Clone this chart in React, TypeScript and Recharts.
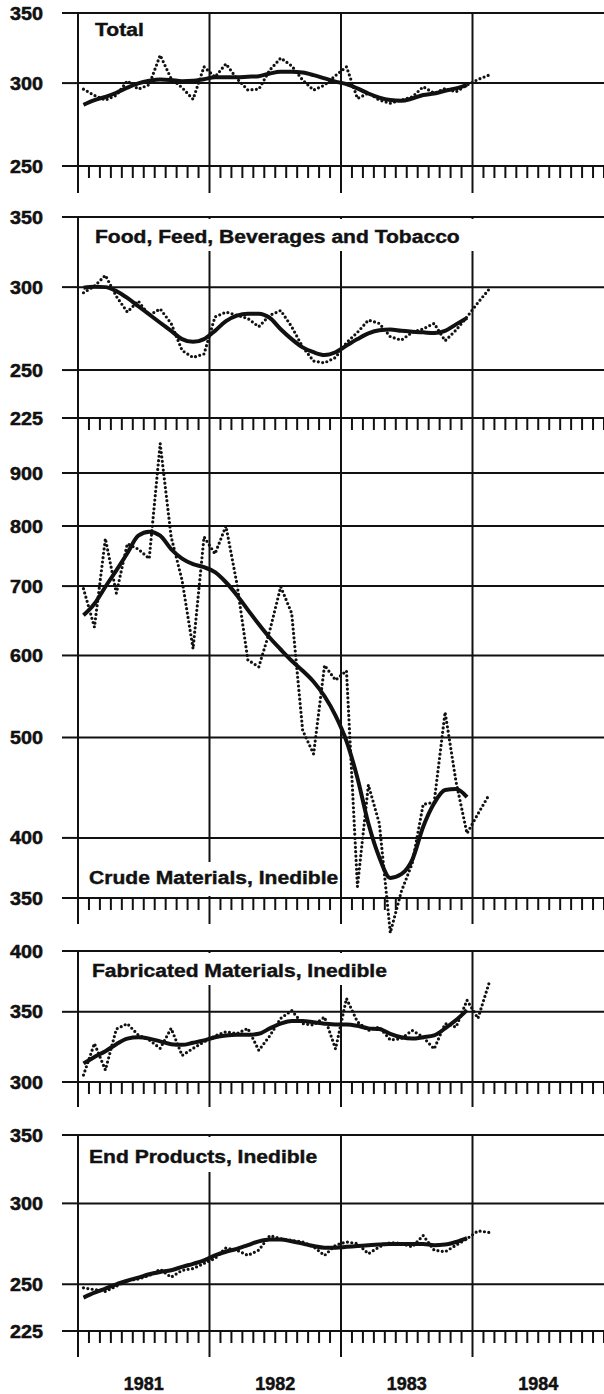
import { LineChart, Line, XAxis, YAxis, CartesianGrid, ReferenceLine } from "recharts";

// monthly index values, Jan 1981 onward (dotted = monthly, solid = trend)
const years = ["1981", "1982", "1983", "1984"];
const titles = [
  "Total",
  "Food, Feed, Beverages and Tobacco",
  "Crude Materials, Inedible",
  "Fabricated Materials, Inedible",
  "End Products, Inedible",
];

const totalRaw = [296, 292, 289, 292, 301.5, 296, 299, 319, 303, 297, 289.5, 311, 304, 313, 303, 295.5, 296, 308.7, 317, 311.6, 302, 295.4, 298.7, 305, 311, 290, 293.5, 289, 287, 289, 291, 297.6, 293.4, 296.5, 294.3, 298.7, 302.4, 305.3];
const totalTrend = [286, 289, 291, 293.7, 297, 299.8, 301.5, 302.4, 302, 301.3, 301.5, 302.6, 303.8, 303.8, 303.8, 304.2, 304.6, 306.4, 307.5, 307.5, 307, 305.3, 303.1, 301, 299.3, 296.5, 293.2, 290.6, 289, 288.5, 290, 292.2, 293.2, 295, 296.5, 298.7];

const foodRaw = [296.3, 300.6, 307.9, 294, 284, 291, 282, 286, 277, 261, 257, 259, 281, 284, 282, 280, 275, 282, 285, 275, 263, 255, 254, 257, 265.5, 271.6, 279, 277, 269, 267, 271.6, 273.7, 277, 266.6, 273, 281, 290, 298.5];
const foodTrend = [299.6, 300.2, 300, 297.4, 293, 287.7, 282.5, 277.4, 272.5, 267.6, 266, 267.6, 272.5, 278.4, 281.8, 283, 283, 280.4, 273.5, 267.6, 262.8, 260, 258.4, 260, 263.8, 267.6, 271, 272.9, 273.3, 272.5, 272, 271.6, 271.2, 272.5, 276.4, 280.4];

const crudeRaw = [696, 639, 778, 689, 769, 760, 744, 961, 781, 709, 609, 781, 752, 800, 704, 594, 585, 634, 699, 659, 508, 482, 587, 568, 580, 359, 450, 413, 324, 355, 378, 431, 433, 529, 453, 404, 422, 440];
const crudeTrend = [656, 673, 699, 725, 753, 783, 790, 783, 760, 744, 735, 730, 722, 706, 686, 664, 643, 624, 608, 593, 580, 566, 548, 525, 496, 457, 413, 383, 366, 369, 381, 410, 432, 445, 446, 438];

const fabRaw = [304.6, 326.5, 308, 337, 341, 332.6, 329, 323, 337.5, 318, 323, 327.6, 332, 335, 333.6, 337.5, 321.6, 332, 345, 351, 341, 340, 346, 322.6, 360.4, 342.4, 336, 338.5, 329, 330, 336, 331, 322.6, 341, 338.5, 359, 345, 372.5];
const fabTrend = [312.5, 317, 321, 326, 330, 331, 330, 328, 326, 325.5, 327, 328.7, 331, 332.3, 332.8, 332.8, 333.5, 337.5, 341, 343, 343, 342, 341, 340.4, 340.4, 339.4, 337.5, 337, 333.5, 331, 330, 331, 332.3, 337.5, 343.7, 351.3];

const endRaw = [248, 247, 246, 248.9, 252, 253, 255, 258.6, 254, 258, 259, 262, 265, 271.3, 270, 266.8, 270, 279, 277, 276, 275, 272, 266.8, 273, 275, 274, 267.8, 272, 274.7, 274, 272, 279, 270, 269, 273, 277, 282, 281];
const endTrend = [242.6, 245.3, 247.6, 250, 252, 253.8, 255.7, 257, 258, 260, 261.8, 263.8, 266.8, 269, 270.8, 273, 275.4, 276.6, 276.6, 275.4, 274, 272.5, 271.5, 271.5, 272, 272.5, 273, 273.4, 273.8, 273.8, 273.8, 273.8, 273, 273.4, 275, 277.4];

const ticks1 = [250, 300, 350];
const ticks2 = [225, 250, 300, 350];
const ticks3 = [350, 400, 500, 600, 700, 800, 900];
const ticks4 = [300, 350, 400];
const ticks5 = [225, 250, 300, 350];

const MONTHS = 48;
const FONT = "'Liberation Sans', Arial, Helvetica, sans-serif";
const INK = "#111";

const monthTicks = Array.from({ length: MONTHS + 1 }, (_, i) => i);
const rows = (raw: number[], trend: number[]) => raw.map((v, i) => ({ t: i + 0.5, raw: v, trend: trend[i] }));

const panels = [
  { top: 0, marginTop: 13, plot: 153, axisHeight: 30, longTick: 27, domain: [250, 350], ticks: ticks1, data: rows(totalRaw, totalTrend) },
  { top: 200, marginTop: 17, plot: 201, axisHeight: 58, longTick: 55, domain: [225, 350], ticks: ticks2, data: rows(foodRaw, foodTrend) },
  { top: 420, marginTop: 53, plot: 425, axisHeight: 45, longTick: 26, domain: [350, 900], ticks: ticks3, data: rows(crudeRaw, crudeTrend) },
  { top: 940, marginTop: 11, plot: 131, axisHeight: 30, longTick: 25, domain: [300, 400], ticks: ticks4, data: rows(fabRaw, fabTrend) },
  { top: 1120, marginTop: 15, plot: 196, axisHeight: 62, longTick: 26, domain: [225, 350], ticks: ticks5, data: rows(endRaw, endTrend), showYears: true },
];

// title placement + white boxes that hide the grid behind the titles
const titlePos = [
  { left: 95, top: 21 },
  { left: 95, top: 228 },
  { left: 89, top: 869 },
  { left: 92, top: 962 },
  { left: 89, top: 1148 },
];
const masks = [
  { left: 80, top: 219, width: 400, height: 32 },
  { left: 82, top: 862, width: 256, height: 34 },
  { left: 80, top: 953, width: 322, height: 32 },
  { left: 80, top: 1137, width: 250, height: 35 },
];

const YTick = ({ x, y, payload }: any) => (
  <text x={x} y={y} dy={6.5} textAnchor="end" fontFamily={FONT} fontWeight="bold" fontSize={18} fill={INK} stroke={INK} strokeWidth={0.5} textLength={33} lengthAdjust="spacingAndGlyphs">
    {payload.value}
  </text>
);

const MonthTick = ({ x, y, payload, longTick, showYears }: any) => {
  const v = payload.value;
  const isYear = v % 12 === 0 && v < MONTHS;
  return (
    <g>
      <line x1={x} x2={x} y1={y} y2={y + (isYear ? longTick : 12)} stroke={INK} strokeWidth={2} />
      {showYears && v % 12 === 6 && (
        <text x={x} y={y + 59} textAnchor="middle" fontFamily={FONT} fontWeight="bold" fontSize={19} fill={INK} stroke={INK} strokeWidth={0.5} textLength={40} lengthAdjust="spacingAndGlyphs">
          {years[Math.floor(v / 12)]}
        </text>
      )}
    </g>
  );
};

const Panel = ({ p }: any) => (
  <div style={{ position: "absolute", left: 0, top: p.top }}>
    <LineChart width={604} height={p.marginTop + p.plot + p.axisHeight} data={p.data} margin={{ top: p.marginTop, right: 0, bottom: 0, left: 0 }}>
      <CartesianGrid vertical={false} stroke={INK} strokeWidth={2} />
      <XAxis
        type="number"
        dataKey="t"
        domain={[0, MONTHS]}
        ticks={monthTicks}
        interval={0}
        allowDataOverflow
        tickSize={0}
        tickMargin={0}
        tickLine={false}
        axisLine={{ stroke: INK, strokeWidth: 2 }}
        height={p.axisHeight}
        tick={<MonthTick longTick={p.longTick} showYears={p.showYears} />}
      />
      <YAxis
        type="number"
        scale="log"
        domain={p.domain}
        ticks={p.ticks}
        interval={0}
        allowDataOverflow
        width={78}
        tickSize={16}
        tickMargin={19}
        tickLine={{ stroke: INK, strokeWidth: 2 }}
        axisLine={{ stroke: INK, strokeWidth: 2 }}
        tick={<YTick />}
      />
      {[12, 24, 36].map((v) => (
        <ReferenceLine key={v} x={v} stroke={INK} strokeWidth={2} />
      ))}
      <Line dataKey="raw" type="linear" stroke={INK} strokeWidth={3.2} strokeDasharray="0 4.4" strokeLinecap="round" dot={false} activeDot={false} isAnimationActive={false} />
      <Line dataKey="trend" type="monotone" stroke={INK} strokeWidth={4} dot={false} activeDot={false} isAnimationActive={false} />
    </LineChart>
  </div>
);

export default function App() {
  return (
    <div style={{ position: "absolute", left: 0, top: 0, width: 604, height: 1394, overflow: "hidden", background: "#fff" }}>
      <style>{`.recharts-line, .recharts-line * { clip-path: none !important; }`}</style>
      {panels.map((p, i) => (
        <Panel key={i} p={p} />
      ))}
      {masks.map((m, i) => (
        <div key={i} style={{ position: "absolute", ...m, background: "#fff" }} />
      ))}
      {titles.map((t, i) => (
        <div
          key={t}
          style={{
            position: "absolute",
            ...titlePos[i],
            fontFamily: FONT,
            fontWeight: "bold",
            fontSize: 18,
            lineHeight: "18px",
            color: INK,
            whiteSpace: "nowrap",
            WebkitTextStroke: "0.4px #111",
            transform: "scaleX(1.17)",
            transformOrigin: "0 0",
          }}
        >
          {t}
        </div>
      ))}
    </div>
  );
}
